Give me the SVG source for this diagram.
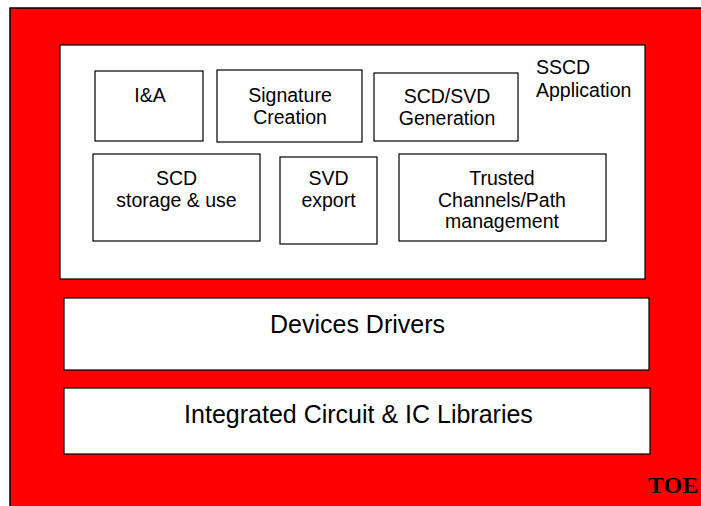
<svg xmlns="http://www.w3.org/2000/svg" width="701" height="506" viewBox="0 0 701 506">
<style>
.box{fill:#fff;stroke:#000;stroke-width:1.2}
.t{font-family:"Liberation Sans",Arial,sans-serif;font-size:19.5px;fill:#000;text-anchor:middle}
.big{font-size:25px}
.toe{font-family:"Liberation Serif","Times New Roman",serif;font-weight:bold;font-size:24px;fill:#000}
</style>
<rect width="701" height="506" fill="#fff"/>
<g id="toe">
<rect x="10" y="8" width="700" height="510" fill="#ff0000" stroke="#000" stroke-width="1.5"/>
<text class="toe" x="648" y="493">TOE</text>
</g>
<g id="sscd">
<rect class="box" x="60" y="45" width="585" height="234"/>
<text class="t" x="536" y="74" style="text-anchor:start">SSCD</text>
<text class="t" x="536" y="97" style="text-anchor:start">Application</text>
</g>
<g id="ia">
<rect class="box" x="95" y="71" width="108" height="70"/>
<text class="t" x="150" y="102">I&amp;A</text>
</g>
<g id="sig">
<rect class="box" x="217" y="70" width="145" height="72"/>
<text class="t" x="290" y="102">Signature</text>
<text class="t" x="290" y="124">Creation</text>
</g>
<g id="gen">
<rect class="box" x="374" y="73" width="144" height="68"/>
<text class="t" x="447" y="103">SCD/SVD</text>
<text class="t" x="447" y="125">Generation</text>
</g>
<g id="storage">
<rect class="box" x="93" y="154" width="167" height="87"/>
<text class="t" x="176.5" y="185">SCD</text>
<text class="t" x="176.5" y="207">storage &amp; use</text>
</g>
<g id="export">
<rect class="box" x="280" y="157" width="97" height="87"/>
<text class="t" x="328.5" y="185">SVD</text>
<text class="t" x="328.5" y="207">export</text>
</g>
<g id="trusted">
<rect class="box" x="399" y="154" width="207" height="87"/>
<text class="t" x="502" y="185">Trusted</text>
<text class="t" x="502" y="207">Channels/Path</text>
<text class="t" x="502" y="228">management</text>
</g>
<g id="drivers">
<rect class="box" x="64" y="298" width="585" height="72"/>
<text class="t big" x="357.5" y="333">Devices Drivers</text>
</g>
<g id="ic">
<rect class="box" x="64" y="388" width="586" height="66"/>
<text class="t big" x="358.5" y="423">Integrated Circuit &amp; IC Libraries</text>
</g>
<g id="connectors"></g>
</svg>
